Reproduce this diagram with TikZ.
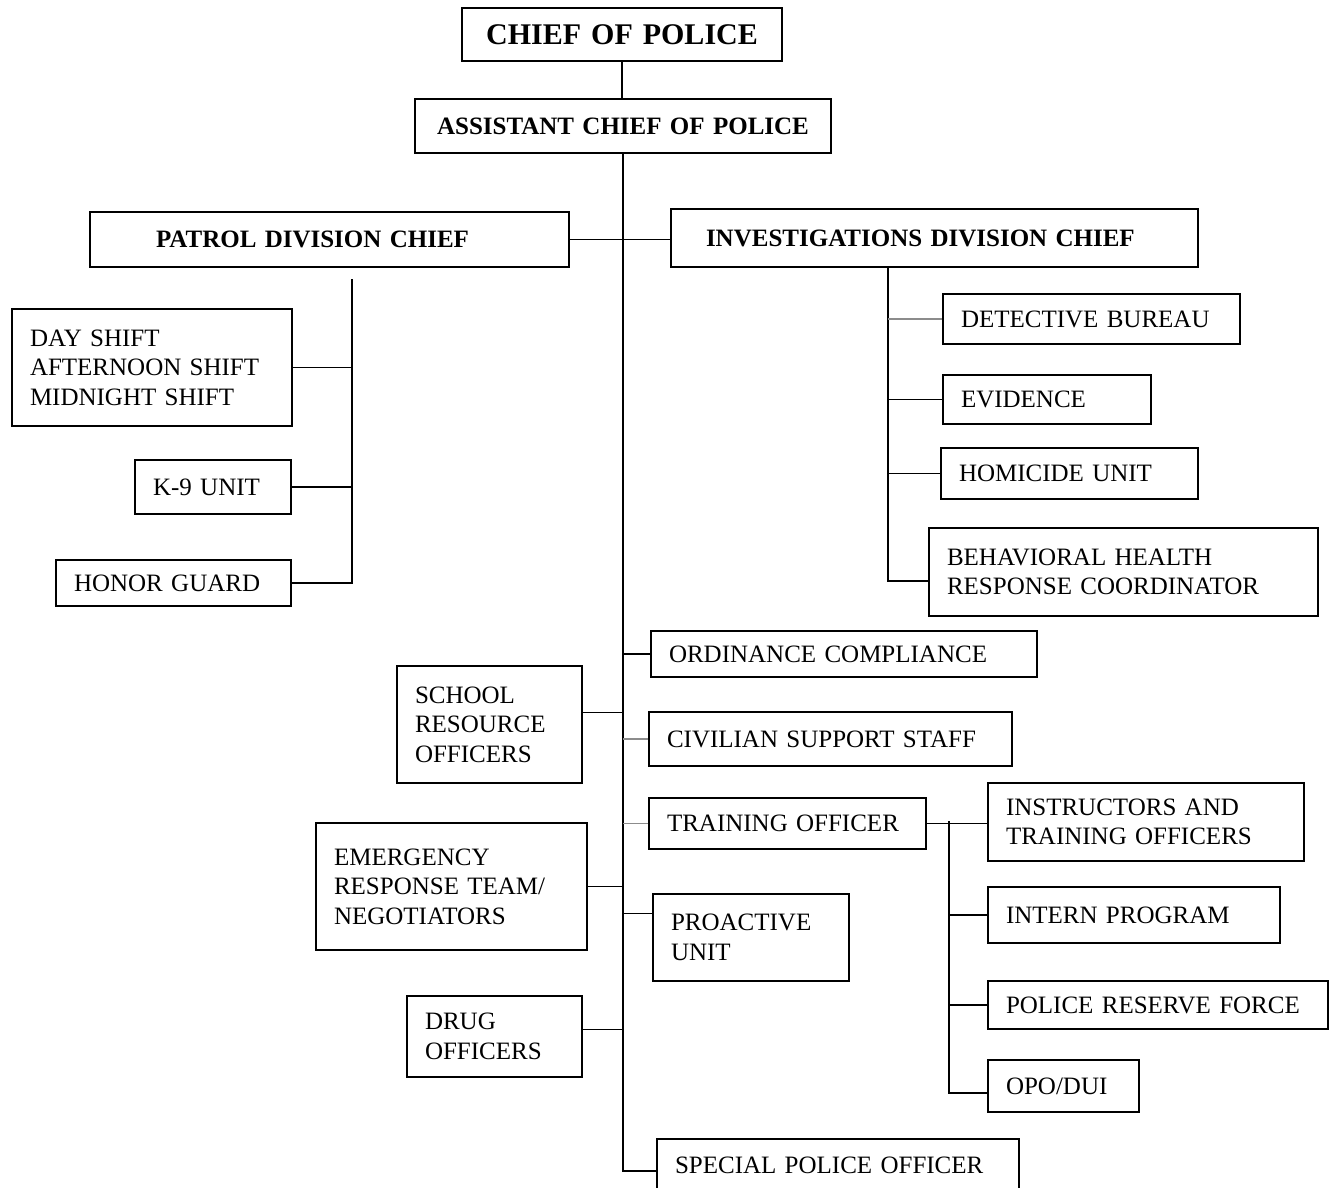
\documentclass[tikz,border=0pt]{standalone}
\usepackage{fontspec}
\setmainfont{Liberation Serif}
\tikzset{
  unit/.style={draw, line width=2pt, anchor=north west, inner xsep=18pt, inner ysep=0pt,
    align=left, font=\fontsize{25}{29.5}\selectfont},
  head/.style={unit, align=center, font=\bfseries\fontsize{25}{29.5}\selectfont},
  link/.style={line width=1.8pt},
  faint/.style={line width=1.8pt, draw=black!45},
}
\begin{document}
\begin{tikzpicture}[x=1pt, y=-1pt]
  \useasboundingbox (0,0) rectangle (1331,1187);
  \node[head, font=\bfseries\fontsize{30}{34}\selectfont, text width=284pt, minimum height=53pt] (chief) at (461,7) {CHIEF OF POLICE};
  \node[head, text width=380pt, minimum height=54pt] (asst) at (414,98) {ASSISTANT CHIEF OF POLICE};
  \node[head, align=left, inner xsep=66pt, text width=347pt, minimum height=55pt] (patrol) at (89,211) {PATROL DIVISION CHIEF};
  \node[head, align=left, inner xsep=35pt, text width=457pt, minimum height=58pt] (invest) at (670,208) {INVESTIGATIONS DIVISION CHIEF};

  \node[unit, text width=244pt, minimum height=117pt] (shifts) at (11,308) {DAY SHIFT\\AFTERNOON SHIFT\\MIDNIGHT SHIFT};
  \node[unit, text width=120pt, minimum height=54pt] (k9) at (134,459) {K-9 UNIT};
  \node[unit, text width=199pt, minimum height=46pt] (honor) at (55,559) {HONOR GUARD};

  \node[unit, text width=261pt, minimum height=50pt] (detective) at (942,293) {DETECTIVE BUREAU};
  \node[unit, text width=172pt, minimum height=49pt] (evidence) at (942,374) {EVIDENCE};
  \node[unit, text width=221pt, minimum height=51pt] (homicide) at (940,447) {HOMICIDE UNIT};
  \node[unit, text width=353pt, minimum height=88pt] (behav) at (928,527) {BEHAVIORAL HEALTH\\RESPONSE COORDINATOR};

  \node[unit, text width=350pt, minimum height=46pt] (ordinance) at (650,630) {ORDINANCE COMPLIANCE};
  \node[unit, text width=149pt, minimum height=117pt] (school) at (396,665) {SCHOOL\\RESOURCE\\OFFICERS};
  \node[unit, text width=327pt, minimum height=54pt] (civilian) at (648,711) {CIVILIAN SUPPORT STAFF};
  \node[unit, text width=241pt, minimum height=51pt] (training) at (648,797) {TRAINING OFFICER};
  \node[unit, text width=235pt, minimum height=127pt] (emergency) at (315,822) {EMERGENCY\\RESPONSE TEAM/\\NEGOTIATORS};
  \node[unit, text width=160pt, minimum height=87pt] (proactive) at (652,893) {PROACTIVE\\UNIT};
  \node[unit, text width=139pt, minimum height=81pt] (drug) at (406,995) {DRUG\\OFFICERS};
  \node[unit, text width=326pt, minimum height=52pt] (special) at (656,1138) {SPECIAL POLICE OFFICER};

  \node[unit, text width=280pt, minimum height=78pt] (instr) at (987,782) {INSTRUCTORS AND\\TRAINING OFFICERS};
  \node[unit, text width=256pt, minimum height=56pt] (intern) at (987,886) {INTERN PROGRAM};
  \node[unit, text width=304pt, minimum height=48pt] (reserve) at (987,980) {POLICE RESERVE FORCE};
  \node[unit, text width=115pt, minimum height=52pt] (opo) at (987,1059) {OPO/DUI};

  \coordinate (pbus) at (352,279);
  \coordinate (ibus) at (888,266);
  \coordinate (tbus) at (949,821);

  \draw[link] (chief.south) -- (chief.south |- asst.north);
  \draw[link] (asst.south) |- ([yshift=-6pt]special.west);
  \draw[link] (patrol.east) -- (patrol.east -| invest.west);

  \draw[link] (pbus) |- (honor.east);
  \draw[link] (shifts.east) -- (shifts.east -| pbus);
  \draw[link] (k9.east) -- (k9.east -| pbus);

  \draw[link] (ibus) |- ([yshift=-9pt]behav.west);
  \draw[faint] (detective.west) -- (detective.west -| ibus);
  \draw[link] (evidence.west) -- (evidence.west -| ibus);
  \draw[link] (homicide.west) -- (homicide.west -| ibus);

  \draw[link] (ordinance.west) -- (ordinance.west -| asst.south);
  \draw[link] ([yshift=12pt]school.east) -- ([yshift=12pt]school.east -| asst.south);
  \draw[faint] (civilian.west) -- (civilian.west -| asst.south);
  \draw[faint] (training.west) -- (training.west -| asst.south);
  \draw[link] (emergency.east) -- (emergency.east -| asst.south);
  \draw[link] ([yshift=24pt]proactive.west) -- ([yshift=24pt]proactive.west -| asst.south);
  \draw[link] ([yshift=7pt]drug.east) -- ([yshift=7pt]drug.east -| asst.south);

  \draw[link] (training.east) -- (training.east -| instr.west);
  \draw[link] (tbus) |- ([yshift=-7pt]opo.west);
  \draw[link] (intern.west) -- (intern.west -| tbus);
  \draw[link] (reserve.west) -- (reserve.west -| tbus);
\end{tikzpicture}
\end{document}
